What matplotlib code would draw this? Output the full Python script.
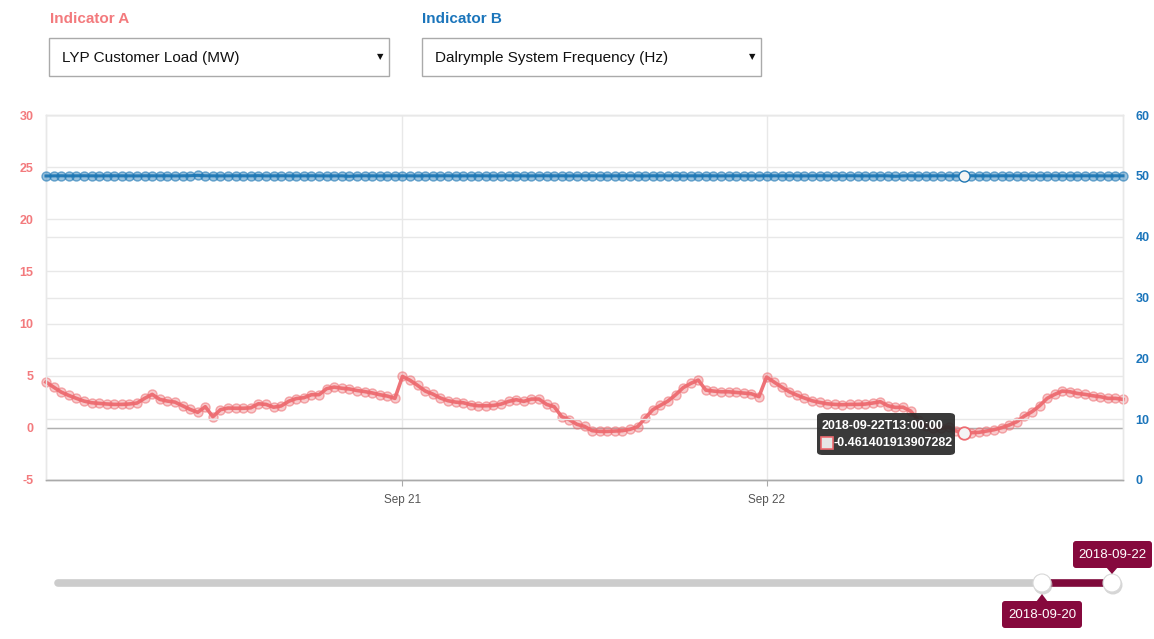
import matplotlib
matplotlib.use("Agg")
import matplotlib.pyplot as plt
import matplotlib.dates as mdates
from matplotlib.patches import FancyBboxPatch, Rectangle, Circle, Polygon
import pandas as pd

plt.rcParams['font.family'] = ['Liberation Sans', 'DejaVu Sans']
plt.rcParams['axes.unicode_minus'] = False

# ---------------- data ----------------
start_time = "2018-09-20 00:30"
n_points = 143
times = pd.date_range(start_time, periods=n_points, freq="30min")

load_mw = [
    4.39, 3.91, 3.43, 3.11, 2.83, 2.57, 2.41, 2.35, 2.29, 2.25,
    2.25, 2.29, 2.38, 2.83, 3.21, 2.73, 2.57, 2.47, 2.12, 1.77,
    1.49, 2.03, 1.07, 1.74, 1.90, 1.88, 1.88, 1.92, 2.31, 2.25,
    1.98, 2.10, 2.55, 2.81, 2.89, 3.18, 3.18, 3.76, 3.91, 3.80,
    3.73, 3.58, 3.48, 3.35, 3.18, 3.05, 2.83, 4.93, 4.56, 4.07,
    3.53, 3.24, 2.86, 2.60, 2.47, 2.41, 2.22, 2.12, 2.12, 2.15,
    2.28, 2.54, 2.70, 2.54, 2.76, 2.76, 2.25, 2.03, 1.07, 0.78,
    0.34, 0.14, -0.27, -0.34, -0.34, -0.30, -0.27, -0.14, 0.11, 0.94,
    1.74, 2.15, 2.57, 3.16, 3.85, 4.26, 4.58, 3.62, 3.53, 3.46,
    3.46, 3.40, 3.33, 3.27, 2.99, 4.87, 4.39, 3.91, 3.46, 3.14,
    2.86, 2.60, 2.44, 2.31, 2.25, 2.22, 2.25, 2.25, 2.28, 2.38,
    2.51, 2.12, 1.96, 1.98, 1.61, 0.75, 0.17, -0.05, -0.05, 0.08,
    -0.30, -0.461401913907282, -0.46, -0.43, -0.30, -0.18, 0.02, 0.27, 0.59, 1.13,
    1.55, 2.12, 2.83, 3.21, 3.53, 3.46, 3.30, 3.21, 3.08, 2.99,
    2.83, 2.83, 2.73,
]

freq_hz = [
    49.98, 50.00, 50.01, 49.99, 50.00, 50.01, 50.00, 49.99, 50.00, 50.01,
    50.00, 50.00, 49.99, 50.01, 50.00, 50.00, 50.01, 49.99, 50.00, 50.02,
    50.08, 50.01, 50.00, 49.99, 50.00, 50.01, 50.00, 50.00, 50.03, 49.99,
    50.00, 50.01, 50.00, 49.99, 50.00, 50.01, 50.00, 49.99, 50.00, 50.00,
    49.93, 50.00, 50.01, 50.00, 49.99, 50.00, 50.01, 50.00, 50.00, 49.99,
    50.01, 50.00, 50.00, 50.01, 49.99, 50.00, 50.00, 50.01, 50.00, 49.99,
    50.00, 50.01, 50.00, 50.00, 49.99, 50.01, 50.00, 50.00, 50.01, 49.99,
    50.00, 50.00, 50.01, 50.00, 49.99, 50.00, 50.01, 50.00, 50.00, 49.99,
    50.01, 50.00, 50.00, 50.01, 49.99, 50.00, 50.00, 50.01, 50.00, 49.99,
    50.00, 50.01, 50.00, 50.00, 49.99, 50.01, 50.00, 50.00, 50.01, 49.99,
    50.00, 50.00, 50.01, 50.00, 49.99, 50.00, 50.01, 50.00, 50.00, 49.99,
    50.01, 50.00, 49.93, 50.00, 50.01, 49.99, 50.00, 50.00, 50.01, 50.00,
    49.99, 50.00, 50.01, 50.00, 50.00, 49.99, 50.01, 50.00, 50.00, 50.01,
    49.99, 50.00, 50.00, 50.01, 50.00, 49.99, 50.00, 50.01, 50.00, 50.00,
    49.99, 50.01, 50.00,
]

hover_index = 121
hover_label = "2018-09-22T13:00:00"
hover_value = "-0.461401913907282"

left_ticks = [-5, 0, 5, 10, 15, 20, 25, 30]
right_ticks = [0, 10, 20, 30, 40, 50, 60]
x_tick_dates = ["2018-09-21", "2018-09-22"]
x_tick_labels = ["Sep 21", "Sep 22"]

indicator_a_label = "Indicator A"
indicator_b_label = "Indicator B"
indicator_a_value = "LYP Customer Load (MW)"
indicator_b_value = "Dalrymple System Frequency (Hz)"
slider_low = "2018-09-20"
slider_high = "2018-09-22"

# ---------------- style ----------------
RED = "#ee6b71"
RED_TXT = "#f37a7d"
BLUE = "#1f77b4"
BLUE_TXT = "#1b75bb"
GRID = "#e8e8e8"
W, H = 1154, 639

fig = plt.figure(figsize=(W / 100, H / 100), dpi=100)
fig.patch.set_facecolor("white")

def fx(x):
    return x / W

def fy(y):
    return 1 - y / H

ax = fig.add_axes([fx(46), fy(480), (1123 - 46) / W, (480 - 115) / H])
ax2 = ax.twinx()

# grid lines (both axes)
for t in left_ticks:
    ax.axhline(t, color=GRID, lw=1, zorder=0)
for t in right_ticks:
    ax2.axhline(t, color=GRID, lw=1, zorder=0)
ax.axhline(0, color="#b0b0b0", lw=1, zorder=1)
for d in x_tick_dates:
    ax.axvline(pd.Timestamp(d), color=GRID, lw=1, zorder=0)

# series
ax.plot(times, load_mw, color=RED, lw=2.6, alpha=0.95, zorder=3, clip_on=False)
ax.plot(times, load_mw, ls="none", marker="o", ms=6.5, mfc=(0.93, 0.42, 0.44, 0.35),
        mec=(0.93, 0.42, 0.44, 0.55), mew=1.0, zorder=4, clip_on=False)
ax2.plot(times, freq_hz, color=BLUE, lw=2.2, alpha=0.95, zorder=3, clip_on=False)
ax2.plot(times, freq_hz, ls="none", marker="o", ms=6.5, mfc=(0.12, 0.47, 0.71, 0.45),
         mec=(0.12, 0.47, 0.71, 0.6), mew=1.0, zorder=4, clip_on=False)

# hovered points
ax.plot([times[hover_index]], [load_mw[hover_index]], marker="o", ms=9, mfc="#f4f4f4",
        mec=RED, mew=1.3, zorder=6, clip_on=False)
ax2.plot([times[hover_index]], [freq_hz[hover_index]], marker="o", ms=8, mfc="#f4f4f4",
         mec=BLUE, mew=1.0, zorder=6, clip_on=False)

ax.set_xlim(times[0], times[-1])
ax.set_ylim(-5, 30)
ax2.set_ylim(0, 60)
ax.set_yticks(left_ticks)
ax2.set_yticks(right_ticks)
ax.set_xticks([pd.Timestamp(d) for d in x_tick_dates])
ax.set_xticklabels(x_tick_labels)

for a in (ax, ax2):
    for s in a.spines.values():
        s.set_color(GRID)
        s.set_linewidth(1)
    a.spines["bottom"].set_color("#aaaaaa")
    a.set_facecolor("none")

ax.tick_params(axis="y", length=0, pad=9, labelsize=9, labelcolor=RED_TXT)
ax2.tick_params(axis="y", length=0, pad=9, labelsize=9, labelcolor=BLUE_TXT)
ax.tick_params(axis="x", length=4, color="#aaaaaa", pad=6, labelsize=8.5, labelcolor="#555555")
for lbl in ax.get_yticklabels() + ax2.get_yticklabels():
    lbl.set_fontweight("bold")

# ---------------- tooltip ----------------
tip = FancyBboxPatch((fx(817), fy(455)), fx(955) - fx(817), fy(413) - fy(455),
                     boxstyle="round,pad=0,rounding_size=0.005", transform=fig.transFigure,
                     facecolor=(0.16, 0.16, 0.16, 0.92), edgecolor="none", zorder=20)
fig.patches.append(tip)
fig.text(fx(822), fy(426), hover_label, color="white", fontsize=9, fontweight="bold",
         va="center", ha="left", zorder=21)
sq = Rectangle((fx(821), fy(449)), fx(12), 12 / H, transform=fig.transFigure,
               facecolor="#e6e6e6", edgecolor=RED, lw=1.2, zorder=21)
fig.patches.append(sq)
fig.text(fx(834), fy(443), hover_value, color="white", fontsize=9, fontweight="bold",
         va="center", ha="left", zorder=21)

# ---------------- header controls ----------------
fig.text(fx(50), fy(19), indicator_a_label, color=RED_TXT, fontsize=11, fontweight="bold",
         va="center", ha="left")
fig.text(fx(422), fy(19), indicator_b_label, color=BLUE_TXT, fontsize=11, fontweight="bold",
         va="center", ha="left")
for x0, x1, label in [(49, 389, indicator_a_value), (422, 761, indicator_b_value)]:
    box = Rectangle((fx(x0), fy(76)), fx(x1 - x0), 38 / H, transform=fig.transFigure,
                    facecolor="white", edgecolor="#aaaaaa", lw=1)
    fig.patches.append(box)
    fig.text(fx(x0 + 13), fy(58), label, color="#111111", fontsize=11, va="center", ha="left")
    fig.text(fx(x1 - 9), fy(57), "\u25BC", color="#111111", fontsize=6, va="center",
             ha="center", family="DejaVu Sans")

# ---------------- range slider ----------------
slider_ax = fig.add_axes([0, 0, 1, 1], zorder=5)
slider_ax.set_xlim(0, W)
slider_ax.set_ylim(H, 0)
slider_ax.axis("off")
slider_ax.plot([58, 1042], [583, 583], color="#cccccc", lw=5.5, solid_capstyle="round", zorder=1)
slider_ax.plot([1042, 1112], [583, 583], color="#7f0a3b", lw=5.5, solid_capstyle="butt", zorder=1)
for hx in (1042, 1112):
    slider_ax.add_patch(Circle((hx + 1, 585), 9.5, facecolor="#bbbbbb", edgecolor="none",
                               alpha=0.6, zorder=3))
    slider_ax.add_patch(Circle((hx, 583), 9, facecolor="white", edgecolor="#d8d8d8", lw=0.8,
                               zorder=4))
MAROON = "#86093d"
# upper label
slider_ax.add_patch(FancyBboxPatch((1073, 541), 79, 27, boxstyle="round,pad=0,rounding_size=3",
                                   facecolor=MAROON, edgecolor="none", zorder=5))
slider_ax.add_patch(Polygon([[1106, 567], [1118, 567], [1112, 574]], closed=True,
                            facecolor=MAROON, edgecolor="none", zorder=5))
slider_ax.text(1112.5, 554.5, slider_high, color="white", fontsize=9.5, ha="center",
               va="center", zorder=6)
# lower label
slider_ax.add_patch(FancyBboxPatch((1002, 601), 80, 27, boxstyle="round,pad=0,rounding_size=3",
                                   facecolor=MAROON, edgecolor="none", zorder=5))
slider_ax.add_patch(Polygon([[1036, 602], [1048, 602], [1042, 594]], closed=True,
                            facecolor=MAROON, edgecolor="none", zorder=5))
slider_ax.text(1042, 614.5, slider_low, color="white", fontsize=9.5, ha="center",
               va="center", zorder=6)

fig.savefig("out.png", dpi=100, facecolor="white")
